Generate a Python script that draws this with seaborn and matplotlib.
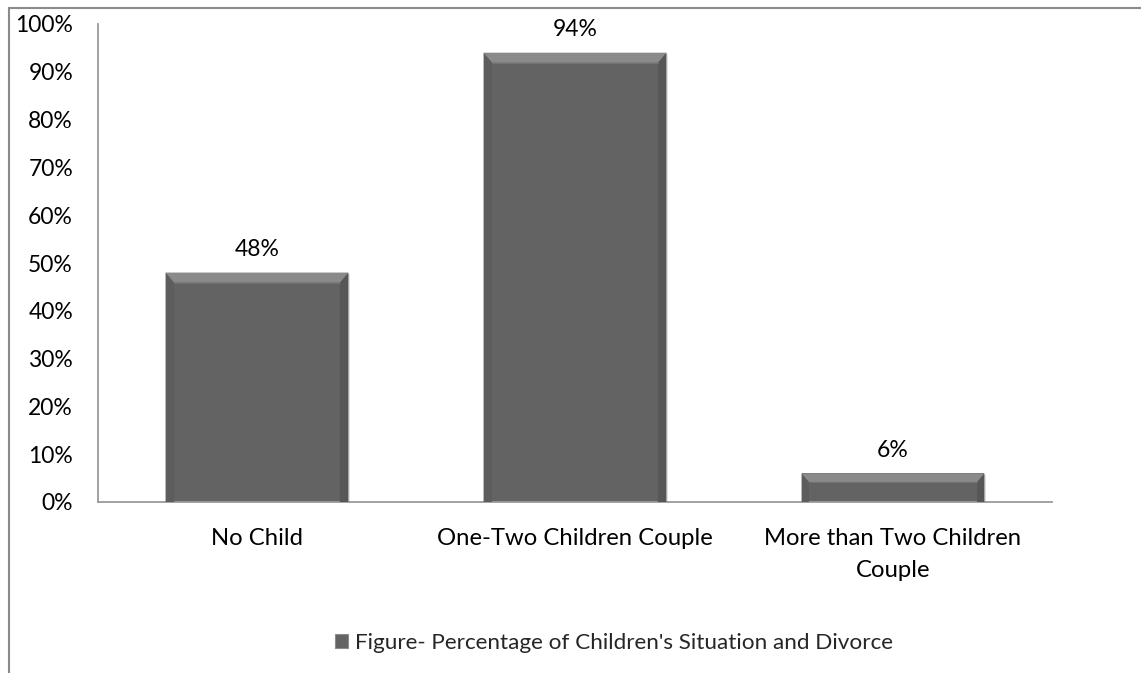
import matplotlib
matplotlib.use("Agg")
import matplotlib.pyplot as plt
import matplotlib.patches as mpatches
from matplotlib.lines import Line2D
from matplotlib.ticker import FuncFormatter, MultipleLocator
import seaborn as sns
import pandas as pd

categories = ["No Child", "One-Two Children Couple", "More than Two Children\nCouple"]
values = [48, 94, 6]
series_name = "Figure- Percentage of Children's Situation and Divorce"

sns.set_style("white")
plt.rcParams["font.family"] = ["Lato", "DejaVu Sans"]

df = pd.DataFrame({"category": categories, "value": values})

fig = plt.figure(figsize=(11.41, 6.73), dpi=100)
ax = fig.add_axes([98 / 1141, 1 - 502 / 673, (1052 - 98) / 1141, (502 - 24) / 673])

face = "#636363"
fs = 16.5
sns.barplot(data=df, x="category", y="value", color=face, saturation=1,
            width=0.575, ax=ax, linewidth=0, zorder=2)

ax.set_ylim(0, 100)
ax.set_xlim(-0.5, len(categories) - 0.5)
ax.yaxis.set_major_locator(MultipleLocator(10))
ax.yaxis.set_major_formatter(FuncFormatter(lambda v, _: f"{v:.0f}%"))
ax.set_xlabel("")
ax.set_ylabel("")
for s in ["top", "right"]:
    ax.spines[s].set_visible(False)
for s in ["left", "bottom"]:
    ax.spines[s].set_color("#9a9a9a")
    ax.spines[s].set_linewidth(1.3)
ax.tick_params(axis="y", length=0, labelsize=fs, colors="black", pad=18)
ax.tick_params(axis="x", length=0, labelsize=17.2, colors="black", pad=19)
for lbl in ax.get_xticklabels():
    lbl.set_linespacing(1.65)

# bevel edges and value labels, built from each drawn bar
dx, dy = 0.027, 2.1
for patch, v in zip(ax.patches, values):
    x0 = patch.get_x()
    w = patch.get_width()
    h = patch.get_height()
    x1 = x0 + w
    d = min(dy, h * 0.3)
    ddx = dx * d / dy
    # soft shadow
    ax.add_patch(mpatches.Rectangle((x0 + 0.005, 0), w, h - 0.3, color="#c4c4c4",
                                    alpha=0.5, zorder=1.5, linewidth=0))
    top = mpatches.Polygon([(x0, h), (x1, h), (x1 - ddx, h - d), (x0 + ddx, h - d)],
                           closed=True, color="#8a8a8a", zorder=3, linewidth=0)
    left = mpatches.Polygon([(x0, h), (x0 + ddx, h - d), (x0 + ddx, 0), (x0, 0)],
                            closed=True, color="#5d5d5d", zorder=3, linewidth=0)
    right = mpatches.Polygon([(x1, h), (x1 - ddx, h - d), (x1 - ddx, 0), (x1, 0)],
                             closed=True, color="#575757", zorder=3, linewidth=0)
    ax.add_patch(left)
    ax.add_patch(right)
    ax.add_patch(top)
    ax.add_line(Line2D([x0 + ddx, x1 - ddx], [h - d, h - d], color="#727272", lw=0.8, zorder=3.5))
    ax.text(x0 + w / 2, h + 2.6, f"{v}%", ha="center", va="bottom", fontsize=fs, color="black")

# legend entry
handle = mpatches.Patch(facecolor=face, edgecolor="#8c8c8c", linewidth=0.8)
fig.legend([handle], [series_name], loc="center", bbox_to_anchor=(614 / 1141, 1 - 643 / 673),
           frameon=False, fontsize=16.2, handlelength=0.6, handleheight=0.6, handletextpad=0.3)

# outer chart frame (top and left edges)
fig.add_artist(Line2D([9 / 1141, 1], [1 - 8 / 673, 1 - 8 / 673], transform=fig.transFigure,
                      color="#8a8a8a", lw=1.5))
fig.add_artist(Line2D([9 / 1141, 9 / 1141], [0, 1 - 8 / 673], transform=fig.transFigure,
                      color="#8a8a8a", lw=1.5))

fig.savefig("out.png", dpi=100, facecolor="white")
